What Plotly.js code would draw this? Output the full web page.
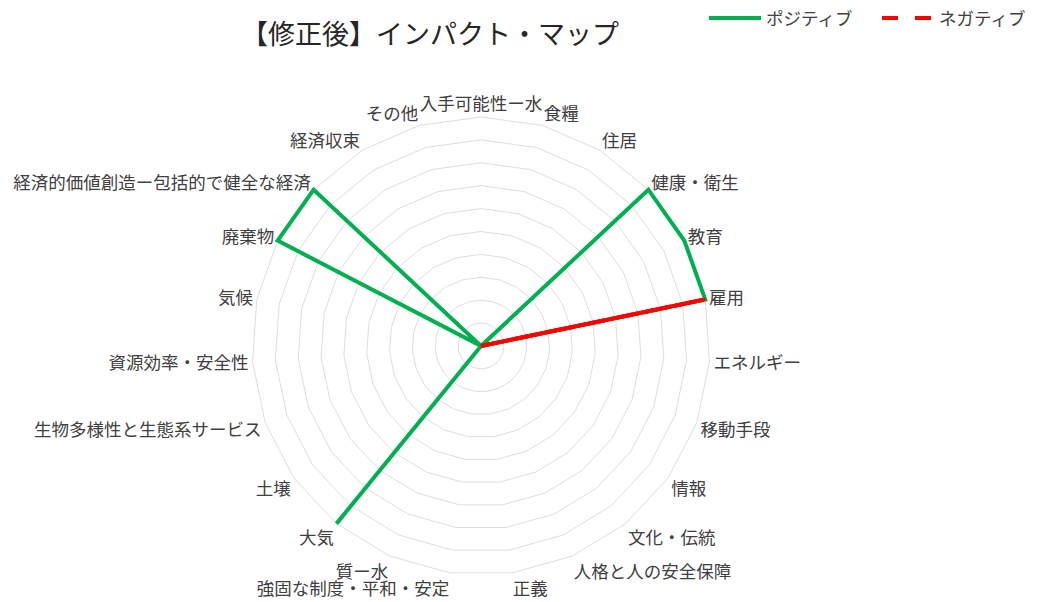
<!DOCTYPE html>
<html>
<head>
<meta charset="utf-8">
<script src="https://cdn.plot.ly/plotly-3.0.1.min.js"></script>
<style>html,body{margin:0;padding:0;background:#fff;}#chart{width:1040px;height:602px;}</style>
</head>
<body>
<div id="chart"></div>
<script>
const categories = ["入手可能性ー水","食糧","住居","健康・衛生","教育","雇用","エネルギー","移動手段","情報","文化・伝統","人格と人の安全保障","正義","強固な制度・平和・安定","質ー水","大気","土壌","生物多様性と生態系サービス","資源効率・安全性","気候","廃棄物","経済的価値創造ー包括的で健全な経済","経済収束","その他"];
const positive = [0,0,0,10,10,10,0,0,0,0,0,0,0,0,10,0,0,0,0,10,10,0,0];
const negative = [0,0,0,0,0,10,0,0,0,0,0,0,0,0,0,0,0,0,0,0,0,0,0];
const seriesNames = ["ポジティブ","ネガティブ"];
const titleText = "【修正後】インパクト・マップ";

const FONT = "'Noto Sans CJK JP', 'Noto Sans', sans-serif";
const W = 1040, H = 602;
const RMAX = 10.15;
const cx = 481, cy = 346, R = 229 * RMAX / 10;

const traces = [
  {type:'scatterpolar', mode:'lines', r: positive, theta: categories, name: seriesNames[0],
   line:{color:'#00b050', width:4}, cliponaxis:false},
  {type:'scatterpolar', mode:'lines', r: negative, theta: categories, name: seriesNames[1],
   line:{color:'#ff0000', width:4}, showlegend:false, hoverinfo:'skip', cliponaxis:false},
  {type:'scatterpolar', mode:'lines', r: negative, theta: categories, name: seriesNames[1],
   line:{color:'#ff0000', width:4, dash:'16px,17px'}, cliponaxis:false}
];

const layout = {
  width: W, height: H,
  margin:{l:0,r:0,t:0,b:0, autoexpand:false},
  paper_bgcolor:'#fff', plot_bgcolor:'#fff',
  font:{family:FONT, color:'#404040'},
  title:{text:titleText, font:{family:FONT, size:27, color:'#262626'},
         xref:'container', yref:'container', x:430/W, xanchor:'center', y:1-34.5/H, yanchor:'middle'},
  showlegend:true,
  legend:{orientation:'h', xref:'container', yref:'container', x:704/W, xanchor:'left', y:1, yanchor:'top',
          font:{family:FONT, size:17.5, color:'#404040'}, itemwidth:52, entrywidth:106, bgcolor:'rgba(0,0,0,0)'},
  polar:{
    domain:{x:[(cx-R)/W,(cx+R)/W], y:[(H-cy-R)/H,(H-cy+R)/H]},
    gridshape:'linear',
    bgcolor:'#fff',
    radialaxis:{range:[0,RMAX], dtick:1, tick0:0, showticklabels:false, ticks:'', showline:false,
                gridcolor:'#dedede', gridwidth:1},
    angularaxis:{type:'category', rotation:90, direction:'clockwise', showgrid:false,
                 ticks:'', showline:false,
                 tickfont:{family:FONT, size:17.5, color:'#404040'}}
  }
};

Plotly.newPlot('chart', traces, layout, {displayModeBar:false, staticPlot:true});
</script>
</body>
</html>
